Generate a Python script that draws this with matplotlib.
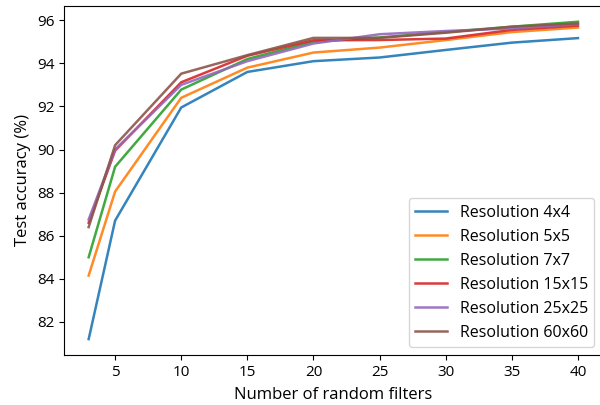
import matplotlib
matplotlib.use("Agg")
import matplotlib.pyplot as plt

plt.rcParams['font.family'] = ['Open Sans', 'DejaVu Sans']
plt.rcParams['font.size'] = 11

filters = [3, 5, 10, 15, 20, 25, 30, 35, 40]
res_4 = [81.2, 86.7, 91.95, 93.6, 94.1, 94.27, 94.62, 94.96, 95.17]
res_5 = [84.15, 88.05, 92.4, 93.8, 94.5, 94.73, 95.08, 95.45, 95.66]
res_7 = [85.0, 89.2, 92.78, 94.2, 95.0, 95.2, 95.45, 95.7, 95.93]
res_15 = [86.6, 89.95, 93.12, 94.35, 95.07, 95.08, 95.15, 95.55, 95.75]
res_25 = [86.75, 90.0, 93.0, 94.1, 94.92, 95.35, 95.5, 95.62, 95.82]
res_60 = [86.4, 90.2, 93.52, 94.38, 95.18, 95.18, 95.42, 95.7, 95.85]

series = [
    ("Resolution 4x4", res_4),
    ("Resolution 5x5", res_5),
    ("Resolution 7x7", res_7),
    ("Resolution 15x15", res_15),
    ("Resolution 25x25", res_25),
    ("Resolution 60x60", res_60),
]

fig = plt.figure(figsize=(6.0, 4.05), dpi=100)
ax = fig.add_axes([0.107, 0.1235, 0.897, 0.862])
for label, vals in series:
    ax.plot(filters, vals, label=label, linewidth=1.8, alpha=0.9)

ax.set_xlabel("Number of random filters", fontsize=12, labelpad=5)
ax.set_ylabel("Test accuracy (%)", fontsize=12)
ax.set_xticks([5, 10, 15, 20, 25, 30, 35, 40])
ax.set_yticks([82, 84, 86, 88, 90, 92, 94, 96])
ax.tick_params(labelsize=11)
ax.legend(loc="lower right", fontsize=11.5)
fig.savefig("out.png", dpi=100)
